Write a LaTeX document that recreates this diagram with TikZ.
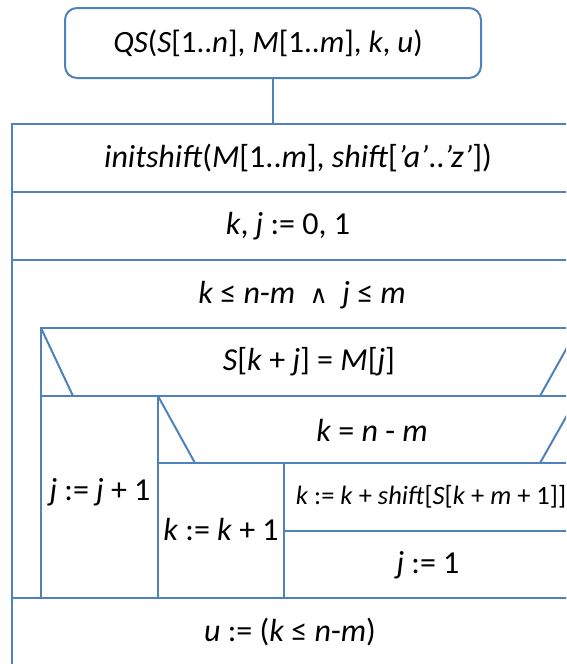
\documentclass[tikz,border=0pt]{standalone}
\usepackage{fontspec}
\setmainfont{Carlito}
\newfontfamily\symfont{DejaVu Sans}
\usetikzlibrary{positioning}
\definecolor{nsblue}{HTML}{4F81BD}
\tikzset{
  nsline/.style={draw=nsblue, line width=2pt},
  headbox/.style={nsline, rounded corners=12pt, minimum width=416pt, minimum height=70pt, inner sep=0pt},
  nstext/.style={font=\fontsize{32}{38}\selectfont, text=black, inner sep=0pt},
  nssmall/.style={font=\fontsize{26.5}{32}\selectfont, text=black, inner sep=0pt}
}
\newcommand{\va}[1]{\textit{#1}}

\begin{document}
\begin{tikzpicture}[x=1pt, y=-1pt]
\clip (0,0) rectangle (566,664);
% procedure head
\node[headbox] (qs) at (273,43) {};
\node[font=\fontsize{31}{37}\selectfont, inner sep=0pt] (qstext) at (268,43) {\va{QS}(\va{S}[1..\va{n}], \va{M}[1..\va{m}], \va{k}, \va{u})};
\coordinate (body) at (273,124);
\draw[nsline] (qs) -- (body);

% outer block
\draw[nsline] (12,124) rectangle (578,670);
\foreach \y in {192,260,598}
  \draw[nsline] (12,\y) -- (578,\y);

% while body
\draw[nsline] (41,328) rectangle (578,598);
\draw[nsline] (41,396) -- (578,396);
\draw[nsline] (41,328) -- (73,396);
\draw[nsline] (540,396) -- (578,328);
\draw[nsline] (158,396) -- (158,598);

% inner if
\draw[nsline] (158,463) -- (578,463);
\draw[nsline] (158,396) -- (195,463);
\draw[nsline] (540,463) -- (578,396);
\draw[nsline] (284,463) -- (284,598);
\draw[nsline] (284,531) -- (578,531);

% texts
\node[nstext] (init) at (298,158) {\va{initshift}(\va{M}[1..\va{m}], \va{shift}[\va{’a’}..\va{’z’}])};
\node[nstext] (start) at (288,226) {\va{k}, \va{j} := 0, 1};
\node[nstext] (cond) at (302,295) {\va{k} ≤ \va{n}-\va{m} \ {\symfont\fontsize{25}{30}\selectfont ∧} \ \va{j} ≤ \va{m}};
\node[nstext] (eq) at (309,362) {\va{S}[\va{k} + \va{j}] = \va{M}[\va{j}]};
\node[nstext] (end) at (372,430) {\va{k} = \va{n} - \va{m}};
\node[nstext] (jinc) at (100,492) {\va{j} := \va{j} + 1};
\node[nstext] (kinc) at (221,530) {\va{k} := \va{k} + 1};
\node[nssmall] (kshift) at (431,497) {\va{k} := \va{k} + \va{shift}[\va{S}[\va{k} + \va{m} + 1]]};
\node[nstext] (jset) at (428,565) {\va{j} := 1};
\node[nstext] (res) at (290,632) {\va{u} := (\va{k} ≤ \va{n}-\va{m})};
\end{tikzpicture}
\end{document}
